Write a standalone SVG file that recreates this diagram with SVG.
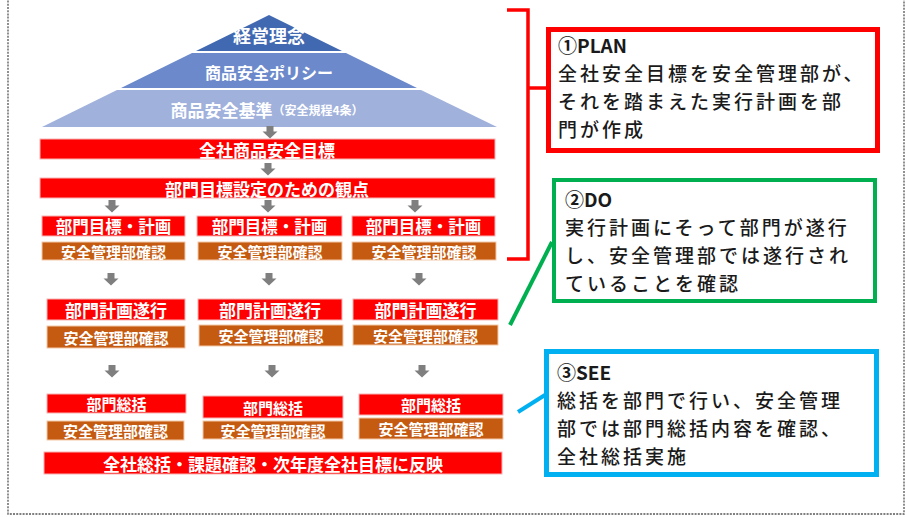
<svg xmlns="http://www.w3.org/2000/svg" width="907" height="517" viewBox="0 0 907 517">
<style>
.lbl{font-family:"Noto Sans CJK JP","Noto Sans",sans-serif;font-weight:bold;fill:#fff;text-anchor:middle;dominant-baseline:central}
.red{fill:#ff0000;stroke:#f8b4b4;stroke-width:1}
.brn{fill:#c55a11;stroke:#f4c9a8;stroke-width:1}
.note{font-family:"Noto Sans CJK JP","Noto Sans",sans-serif;font-size:19px;letter-spacing:3px;font-weight:500;fill:#1a1a1a}
.ttl{font-weight:bold;letter-spacing:0}
.arr{fill:#7f7f7f}
</style>
<defs>
<path id="dn" d="M-3.5,0 h7 v5.5 h4 l-7.5,7 l-7.5,-7 h4 z"/>
</defs>
<rect x="8" y="-5" width="896" height="519" fill="none" stroke="#555" stroke-width="1.3" stroke-dasharray="2,1.2"/>

<g id="pyramid">
<polygon points="269,15 196,51 342,51" fill="#4169b2"/>
<polygon points="192,53 346,53 417,88 121,88" fill="#6c8acb"/>
<polygon points="117,90 421,90 497,127 42,127" fill="#a0b1dc"/>
<text class="lbl" x="269" y="35" font-size="18">経営理念</text>
<text class="lbl" x="269" y="72" font-size="16">商品安全ポリシー</text>
<text class="lbl" x="267" y="109" font-size="17">商品安全基準<tspan font-size="12">（安全規程4条）</tspan></text>
</g>

<g id="n-company-goal"><rect class="red" x="40" y="139" width="455" height="20"/><text class="lbl" x="267" y="149" font-size="17">全社商品安全目標</text></g>
<g id="n-viewpoint"><rect class="red" x="40" y="178" width="455" height="20"/><text class="lbl" x="267" y="188" font-size="17">部門目標設定のための観点</text></g>

<g id="n-plan1"><rect class="red" x="42" y="216" width="143" height="20"/><text class="lbl" x="113.5" y="226" font-size="16.5">部門目標・計画</text></g>
<g id="n-plan2"><rect class="red" x="197" y="216" width="145" height="20"/><text class="lbl" x="269.5" y="226" font-size="16.5">部門目標・計画</text></g>
<g id="n-plan3"><rect class="red" x="352" y="216" width="143" height="20"/><text class="lbl" x="423.5" y="226" font-size="16.5">部門目標・計画</text></g>
<g id="n-chk1a"><rect class="brn" x="42" y="242" width="143" height="18"/><text class="lbl" x="113.5" y="251" font-size="15">安全管理部確認</text></g>
<g id="n-chk2a"><rect class="brn" x="198" y="242" width="144" height="18"/><text class="lbl" x="270" y="251" font-size="15">安全管理部確認</text></g>
<g id="n-chk3a"><rect class="brn" x="352" y="242" width="144" height="18"/><text class="lbl" x="424" y="251" font-size="15">安全管理部確認</text></g>

<g id="n-do1"><rect class="red" x="47" y="299" width="138" height="21"/><text class="lbl" x="116" y="309.5" font-size="17">部門計画遂行</text></g>
<g id="n-do2"><rect class="red" x="198" y="299" width="144" height="21"/><text class="lbl" x="270" y="309.5" font-size="17">部門計画遂行</text></g>
<g id="n-do3"><rect class="red" x="353" y="299" width="145" height="21"/><text class="lbl" x="425.5" y="309.5" font-size="17">部門計画遂行</text></g>
<g id="n-chk1b"><rect class="brn" x="47" y="326" width="138" height="22"/><text class="lbl" x="116" y="337" font-size="15">安全管理部確認</text></g>
<g id="n-chk2b"><rect class="brn" x="199" y="325" width="144" height="21"/><text class="lbl" x="271" y="335.5" font-size="15">安全管理部確認</text></g>
<g id="n-chk3b"><rect class="brn" x="353" y="325" width="145" height="20"/><text class="lbl" x="425.5" y="335" font-size="15">安全管理部確認</text></g>

<g id="n-see1"><rect class="red" x="47" y="394" width="139" height="19"/><text class="lbl" x="116.5" y="403.5" font-size="15">部門総括</text></g>
<g id="n-see2"><rect class="red" x="203" y="396" width="140" height="22"/><text class="lbl" x="273" y="407" font-size="15">部門総括</text></g>
<g id="n-see3"><rect class="red" x="359" y="394" width="144" height="21"/><text class="lbl" x="431" y="404.5" font-size="15">部門総括</text></g>
<g id="n-chk1c"><rect class="brn" x="47" y="421" width="137" height="19"/><text class="lbl" x="115.5" y="430.5" font-size="15">安全管理部確認</text></g>
<g id="n-chk2c"><rect class="brn" x="203" y="421" width="140" height="18"/><text class="lbl" x="273" y="430" font-size="15">安全管理部確認</text></g>
<g id="n-chk3c"><rect class="brn" x="359" y="418" width="144" height="21"/><text class="lbl" x="431" y="428.5" font-size="15">安全管理部確認</text></g>

<g id="n-final"><rect class="red" x="44" y="452" width="458" height="22"/><text class="lbl" x="273" y="463" font-size="17">全社総括・課題確認・次年度全社目標に反映</text></g>

<g id="n-plan-note">
<rect x="548.5" y="29.5" width="329" height="121" fill="#fff" stroke="#ff0000" stroke-width="5"/>
<text class="note" x="558" y="53"><tspan class="ttl">①PLAN</tspan><tspan x="558" y="81">全社安全目標を安全管理部が、</tspan><tspan x="558" y="109">それを踏まえた実行計画を部</tspan><tspan x="558" y="137">門が作成</tspan></text>
</g>
<g id="n-do-note">
<rect x="554" y="180" width="321" height="121" fill="#fff" stroke="#00b050" stroke-width="4"/>
<text class="note" x="565" y="207"><tspan class="ttl">②DO</tspan><tspan x="565" y="235">実行計画にそって部門が遂行</tspan><tspan x="565" y="263">し、安全管理部では遂行され</tspan><tspan x="565" y="291">ていることを確認</tspan></text>
</g>
<g id="n-see-note">
<rect x="546.5" y="351.5" width="330" height="123" fill="#fff" stroke="#00b0f0" stroke-width="5"/>
<text class="note" x="557" y="380"><tspan class="ttl">③SEE</tspan><tspan x="557" y="408">総括を部門で行い、安全管理</tspan><tspan x="557" y="436">部では部門総括内容を確認、</tspan><tspan x="557" y="464">全社総括実施</tspan></text>
</g>

<g id="connectors">
<g class="arr">
<use href="#dn" x="270" y="126"/>
<use href="#dn" x="268" y="163"/>
<use href="#dn" x="112" y="200"/><use href="#dn" x="268" y="200"/><use href="#dn" x="415" y="200"/>
<use href="#dn" x="111" y="273"/><use href="#dn" x="269" y="273"/><use href="#dn" x="419" y="273"/>
<use href="#dn" x="112" y="365"/><use href="#dn" x="272" y="365"/><use href="#dn" x="422" y="365"/>
</g>
<polyline points="507,10 528,10 528,259 507,259" fill="none" stroke="#ff0000" stroke-width="3.5"/>
<line x1="528" y1="88" x2="547" y2="88" stroke="#ff0000" stroke-width="3.5"/>
<line x1="552" y1="242" x2="510" y2="325" stroke="#00b050" stroke-width="4"/>
<line x1="545" y1="395" x2="518" y2="412" stroke="#00b0f0" stroke-width="4"/>
</g>
</svg>
